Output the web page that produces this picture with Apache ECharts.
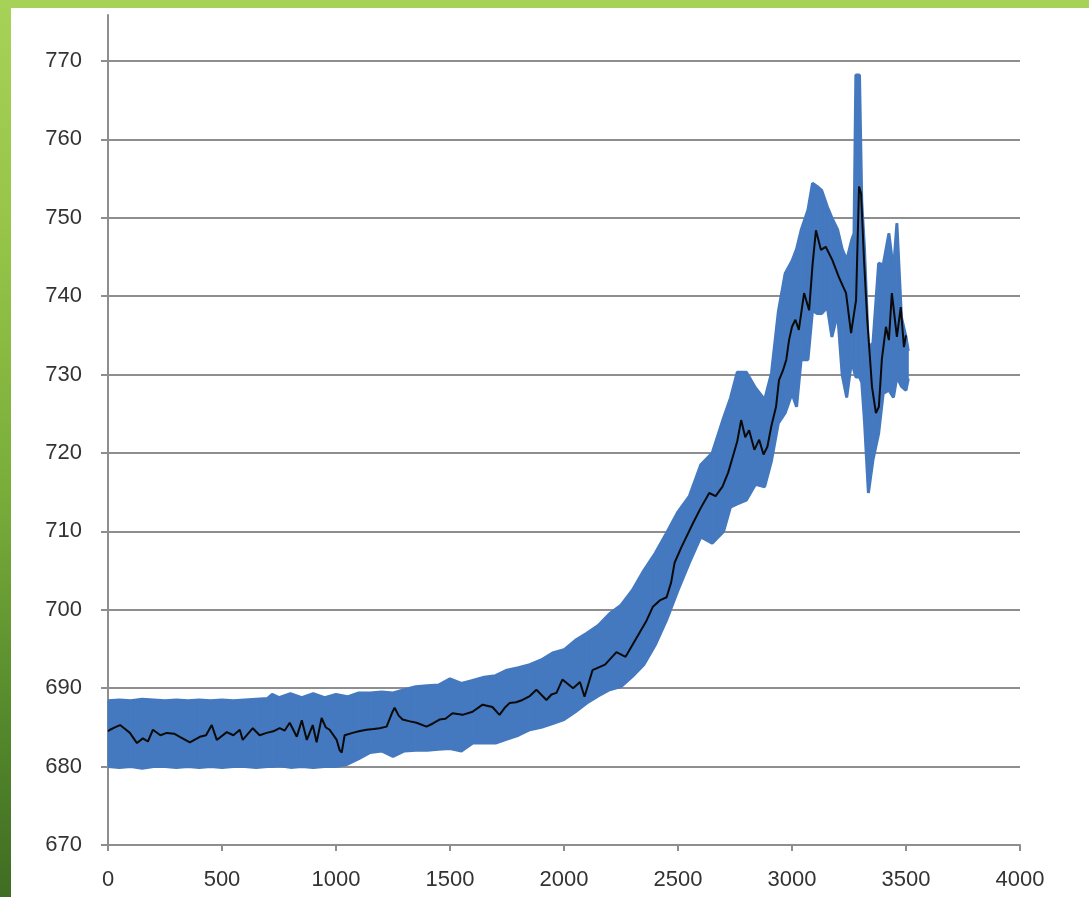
<!DOCTYPE html>
<html>
<head>
<meta charset="utf-8">
<script src="https://cdn.jsdelivr.net/npm/echarts@6/dist/echarts.min.js"></script>
<style>
  html, body { margin: 0; padding: 0; width: 1089px; height: 897px; overflow: hidden; }
  body { background: linear-gradient(to bottom, #a6d258 0%, #96c548 25%, #79ad3a 55%, #56892c 80%, #3f6d22 100%); position: relative; }
  #chart { position: absolute; left: 11px; top: 8px; width: 1078px; height: 889px; background: #ffffff; }
</style>
</head>
<body>
<div id="chart"></div>
<script>
// Envelope of the noisy (blue) series
const bandX = [
  0, 50, 100, 150, 200, 250, 300, 350, 400, 450,
  500, 550, 600, 650, 700, 720, 750, 800, 850, 900,
  950, 1000, 1050, 1100, 1150, 1200, 1250, 1300, 1350, 1400,
  1450, 1500, 1550, 1600, 1650, 1700, 1750, 1800, 1850, 1900,
  1950, 2000, 2050, 2100, 2150, 2200, 2250, 2300, 2350, 2400,
  2450, 2500, 2550, 2600, 2650, 2700, 2730, 2760, 2800, 2840,
  2880, 2910, 2940, 2970, 3000, 3020, 3040, 3070, 3090, 3110,
  3130, 3155, 3175, 3200, 3220, 3240, 3262, 3272, 3280, 3296,
  3306, 3318, 3335, 3355, 3380, 3400, 3425, 3445, 3460, 3480,
  3500, 3510
];
const bandUpper = [
  688.4, 688.5, 688.4, 688.6, 688.5, 688.4, 688.5, 688.4, 688.5, 688.4,
  688.5, 688.4, 688.5, 688.6, 688.7, 689.2, 688.8, 689.3, 688.8, 689.3,
  688.8, 689.2, 688.9, 689.4, 689.4, 689.5, 689.4, 689.8, 690.2, 690.3,
  690.4, 691.2, 690.6, 691.0, 691.4, 691.6, 692.3, 692.6, 693.0, 693.6,
  694.5, 694.9, 696.1, 697.0, 698.0, 699.5, 700.6, 702.5, 705.0, 707.2,
  709.8, 712.5, 714.5, 718.5, 720.0, 724.5, 727.0, 730.3, 730.3, 728.3,
  726.8, 730.2, 738.0, 742.9, 744.5, 746.0, 748.4, 751.0, 754.4, 754.0,
  753.5, 751.4, 750.0, 748.5, 746.0, 744.6, 747.2, 748.0, 768.2, 768.2,
  752.0, 746.0, 733.5, 734.0, 744.2, 744.0, 748.0, 743.3, 749.3, 737.3,
  734.8, 733.0
];
const bandLower = [
  680.0, 679.9, 680.0, 679.8, 680.0, 680.0, 679.9, 680.0, 679.9, 680.0,
  679.9, 680.0, 680.0, 679.9, 680.0, 680.0, 680.1, 679.9, 680.0, 679.9,
  680.0, 680.0, 680.3, 681.0, 681.8, 682.0, 681.3, 682.0, 682.1, 682.1,
  682.2, 682.3, 682.0, 683.0, 683.0, 683.0, 683.5, 684.0, 684.7, 685.0,
  685.5, 686.0, 687.0, 688.1, 689.0, 689.8, 690.2, 691.5, 693.0, 695.5,
  698.7, 702.5, 706.0, 709.3, 708.5, 710.0, 713.1, 713.5, 714.0, 716.0,
  715.7, 719.0, 723.8, 725.1, 727.6, 725.9, 731.9, 731.9, 738.2, 737.8,
  737.8, 738.6, 734.8, 737.8, 730.0, 727.1, 731.9, 730.5, 729.7, 729.7,
  729.0, 724.0, 714.9, 719.1, 722.5, 727.6, 728.0, 727.1, 729.7, 728.5,
  728.0, 729.5
];

// Smoothed (black) series
const lineX = [
  0, 9, 30, 53, 75, 96, 127, 153, 175, 197,
  230, 258, 290, 315, 359, 403, 430, 455, 477, 521,
  550, 578, 591, 635, 665, 696, 725, 753, 775, 797,
  828, 850, 872, 898, 915, 937, 955, 972, 1003, 1016,
  1025, 1038, 1073, 1100, 1134, 1165, 1191, 1222, 1248, 1257,
  1275, 1292, 1320, 1353, 1397, 1425, 1454, 1480, 1511, 1555,
  1599, 1643, 1686, 1717, 1740, 1761, 1790, 1818, 1850, 1879,
  1923, 1945, 1967, 1993, 2040, 2070, 2090, 2125, 2180, 2230,
  2270, 2300, 2330, 2360, 2390, 2420, 2450, 2470, 2485, 2515,
  2540, 2565, 2600, 2637, 2665, 2695, 2720, 2740, 2760, 2777,
  2795, 2812, 2835, 2856, 2875, 2892, 2910, 2930, 2943, 2960,
  2975, 2987, 3000, 3015, 3030, 3053, 3075, 3090, 3105, 3127,
  3148, 3177, 3206, 3237, 3259, 3281, 3294, 3303, 3316, 3330,
  3351, 3368, 3381, 3394, 3412, 3425, 3438, 3460, 3477, 3491,
  3500
];
const lineY = [
  684.5, 684.7, 685.0, 685.3, 684.8, 684.3, 683.0, 683.6, 683.2, 684.7,
  684.0, 684.3, 684.2, 683.8, 683.1, 683.8, 684.0, 685.3, 683.4, 684.4,
  684.0, 684.7, 683.4, 684.9, 684.0, 684.3, 684.5, 684.9, 684.6, 685.6,
  683.8, 685.9, 683.4, 685.3, 683.1, 686.2, 685.0, 684.7, 683.4, 682.1,
  681.8, 684.0, 684.3, 684.5, 684.7, 684.8, 684.9, 685.1, 687.0, 687.5,
  686.5, 686.0, 685.8, 685.6, 685.1, 685.5, 686.0, 686.1, 686.8, 686.6,
  687.0, 687.9, 687.6, 686.6, 687.5, 688.1, 688.2, 688.5, 689.0, 689.8,
  688.5, 689.2, 689.4, 691.1, 690.0, 690.8, 688.9, 692.3, 693.0, 694.6,
  694.0, 695.5, 697.0, 698.5, 700.4, 701.2, 701.6, 703.5, 706.0, 708.0,
  709.5, 711.0, 713.0, 714.9, 714.5, 715.7, 717.5, 719.5, 721.5, 724.2,
  722.0, 722.9, 720.4, 721.7, 719.8, 720.8, 723.5, 725.9, 729.3, 730.5,
  731.9, 734.4, 736.1, 737.0, 735.7, 740.4, 738.2, 744.0, 748.4, 745.9,
  746.3, 744.6, 742.4, 740.4, 735.3, 739.5, 754.0, 753.1, 744.6, 737.0,
  728.4, 725.1, 725.9, 731.9, 736.1, 734.4, 740.4, 734.8, 738.6, 733.5,
  735.0
];

const yMin = 670, yMax = 770, yStep = 10;
const xMin = 0, xMax = 4000, xStep = 500;

const BLUE = '#4479c0';
const GRID = '#8e8e8e';
const TEXT = '#333333';

// one quad per envelope segment: [x0, lo0, up0, x1, lo1, up1]
const segData = [];
for (let i = 0; i < bandX.length - 1; i++) {
  segData.push([bandX[i], bandLower[i], bandUpper[i], bandX[i + 1], bandLower[i + 1], bandUpper[i + 1]]);
}
const upperData = bandX.map((x, i) => [x, bandUpper[i]]);
const lowerData = bandX.map((x, i) => [x, bandLower[i]]);
const blackData = lineX.map((x, i) => [x, lineY[i]]);

function renderBand(params, api) {
  const a = api.coord([api.value(0), api.value(1)]);
  const b = api.coord([api.value(0), api.value(2)]);
  const c = api.coord([api.value(3), api.value(5)]);
  const d = api.coord([api.value(3), api.value(4)]);
  return {
    type: 'polygon',
    shape: { points: [a, b, c, d] },
    style: { fill: BLUE, stroke: BLUE, lineWidth: 1 }
  };
}

const labelFont = { color: TEXT, fontFamily: 'Liberation Sans', fontSize: 22 };

const chart = echarts.init(document.getElementById('chart'), null, { renderer: 'canvas' });
chart.setOption({
  animation: false,
  backgroundColor: '#ffffff',
  grid: [
    { left: 97, top: 53, width: 912, height: 784, containLabel: false },
    { left: 97, top: 7, width: 10, height: 46, containLabel: false }
  ],
  xAxis: [
    {
      type: 'value', gridIndex: 0, min: xMin, max: xMax, interval: xStep,
      axisLine: { show: true, lineStyle: { color: GRID, width: 2 } },
      axisTick: { show: true, inside: false, length: 6, lineStyle: { color: GRID, width: 2 } },
      axisLabel: Object.assign({ margin: 24, formatter: v => String(v) }, labelFont),
      splitLine: { show: false }
    },
    { type: 'value', gridIndex: 1, show: false, min: 0, max: 1 }
  ],
  yAxis: [
    {
      type: 'value', gridIndex: 0, min: yMin, max: yMax, interval: yStep,
      axisLine: { show: true, lineStyle: { color: GRID, width: 2 } },
      axisTick: { show: true, inside: false, length: 7, lineStyle: { color: GRID, width: 2 } },
      axisLabel: Object.assign({ margin: 26, formatter: v => String(v) }, labelFont),
      splitLine: { show: true, lineStyle: { color: GRID, width: 2 } }
    },
    {
      type: 'value', gridIndex: 1, min: 0, max: 1,
      axisLine: { show: true, onZero: false, lineStyle: { color: GRID, width: 2 } },
      axisTick: { show: false }, axisLabel: { show: false }, splitLine: { show: false }
    }
  ],
  series: [
    {
      type: 'custom', xAxisIndex: 0, yAxisIndex: 0,
      data: segData, renderItem: renderBand,
      encode: { x: [0, 3], y: [1, 2, 4, 5] }, z: 2, silent: true
    },
    {
      type: 'line', xAxisIndex: 0, yAxisIndex: 0,
      data: upperData, symbol: 'none', showSymbol: false,
      lineStyle: { color: BLUE, width: 3 }, z: 2
    },
    {
      type: 'line', xAxisIndex: 0, yAxisIndex: 0,
      data: lowerData, symbol: 'none', showSymbol: false,
      lineStyle: { color: BLUE, width: 3 }, z: 2
    },
    {
      type: 'line', xAxisIndex: 0, yAxisIndex: 0,
      data: blackData, symbol: 'none', showSymbol: false,
      lineStyle: { color: '#0a0a0a', width: 2 }, z: 3
    }
  ]
});
</script>
</body>
</html>
